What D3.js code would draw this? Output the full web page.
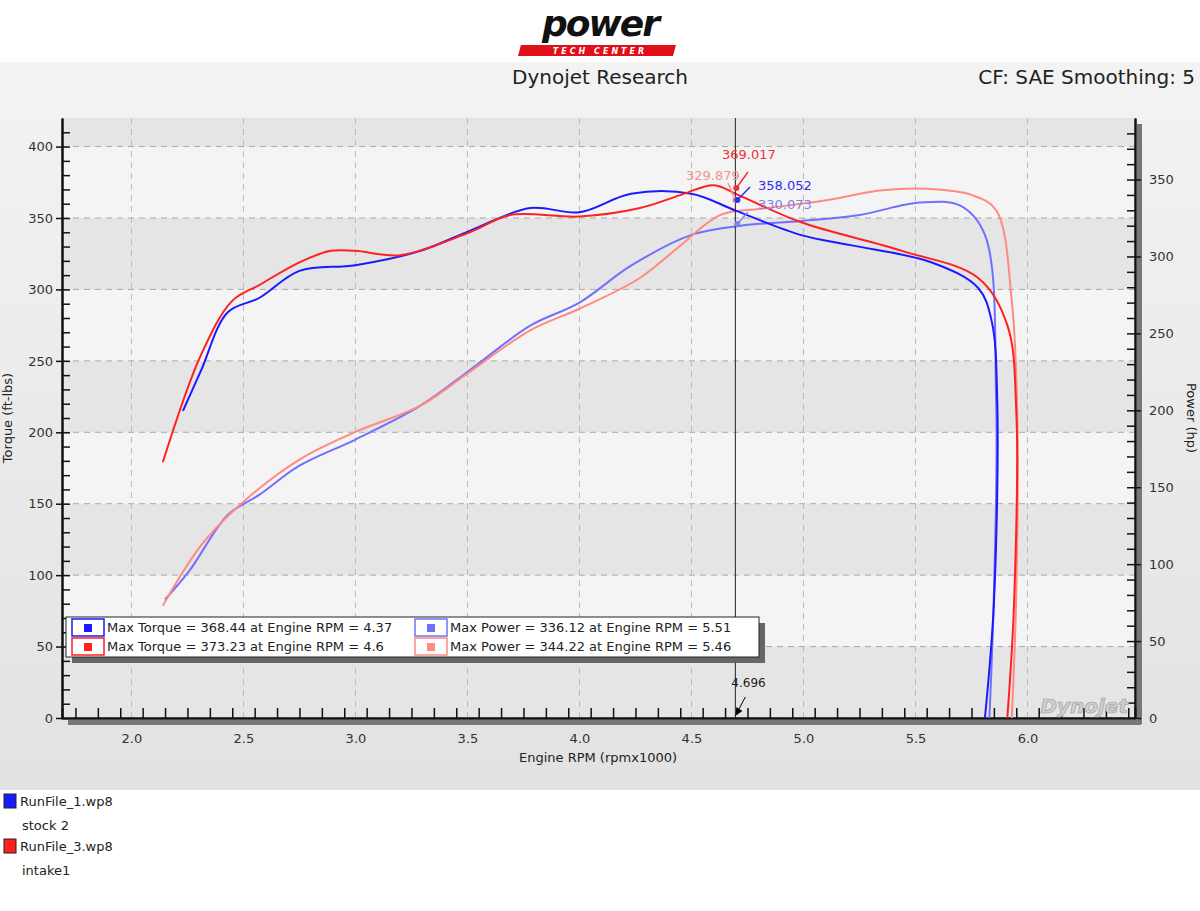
<!DOCTYPE html>
<html><head><meta charset="utf-8">
<script src="https://cdn.jsdelivr.net/npm/d3@7"></script>
<style>body{margin:0;background:#fff;font-family:Tahoma,"DejaVu Sans",sans-serif}</style>
</head><body><svg width="1200" height="911"></svg>
<script>
var rpmTicks = [2.0, 2.5, 3.0, 3.5, 4.0, 4.5, 5.0, 5.5, 6.0];
var torqueTicks = [0, 50, 100, 150, 200, 250, 300, 350, 400];
var powerTicks = [0, 50, 100, 150, 200, 250, 300, 350];

var stockTorque = [[2.23,215],[2.31,243],[2.43,284],[2.57,294],[2.75,313],[3.0,317],[3.29,327],[3.51,341],[3.78,357],[4.0,354],[4.23,367],[4.5,367],[4.7,355],[4.99,338],[5.21,331],[5.57,319],[5.78,301],[5.84,278],[5.865,222],[5.85,80],[5.81,0]];
var intakeTorque = [[2.14,179],[2.31,254],[2.45,292],[2.57,303],[2.75,319],[2.89,327],[3.0,327],[3.2,324],[3.51,340],[3.69,352],[4.0,351],[4.27,357],[4.45,366],[4.6,373],[4.71,366],[4.99,347],[5.44,327],[5.78,308],[5.91,275],[5.95,215],[5.94,80],[5.91,0]];
var stockPower = [[2.15,77],[2.26,96],[2.43,132],[2.57,145],[2.75,164],[3.0,181],[3.29,203],[3.51,226],[3.78,255],[4.0,270],[4.23,294],[4.5,314],[4.72,320],[4.99,323],[5.25,327],[5.52,335],[5.7,333],[5.81,314],[5.86,206],[5.85,80],[5.83,0]];
var intakePower = [[2.14,73],[2.31,112],[2.48,138],[2.75,168],[3.0,186],[3.29,203],[3.51,225],[3.78,252],[4.0,266],[4.27,286],[4.45,307],[4.63,327],[4.81,331],[5.08,336],[5.35,343],[5.55,344],[5.75,340],[5.86,330],[5.93,271],[5.955,193],[5.95,80],[5.93,0]];

var svg = d3.select('svg');
var L = 62, R = 1135, T = 118, B = 718;
var x = d3.scaleLinear().domain([1.69, 6.48]).range([L, R]);
var yT = d3.scaleLinear().domain([0, 420]).range([B, T]);
var yP = d3.scaleLinear().domain([0, 390]).range([B, T]);

var defs = svg.append('defs');
var bg = defs.append('linearGradient').attr('id', 'bg').attr('x1', 0).attr('y1', 0).attr('x2', 0).attr('y2', 1);
bg.append('stop').attr('offset', 0).attr('stop-color', '#f3f3f3');
bg.append('stop').attr('offset', 1).attr('stop-color', '#e2e2e2');
svg.append('rect').attr('x', 0).attr('y', 62).attr('width', 1200).attr('height', 728).attr('fill', 'url(#bg)');

// logo
svg.append('text').attr('x', 600).attr('y', 36).attr('text-anchor', 'middle')
  .attr('font-size', 36).attr('font-weight', 'bold').attr('font-style', 'italic')
  .attr('font-family', 'Arial Black, DejaVu Sans').attr('fill', '#111').attr('letter-spacing', -2).text('power');
svg.append('rect').attr('x', 520).attr('y', 45).attr('width', 155).attr('height', 11).attr('fill', '#e0101b').attr('transform', 'skewX(-15) translate(13,0)');
svg.append('text').attr('x', 600).attr('y', 54).attr('text-anchor', 'middle').attr('font-size', 8)
  .attr('font-weight', 'bold').attr('font-style', 'italic').attr('fill', '#fff').attr('letter-spacing', 3).text('TECH CENTER');

svg.append('text').attr('x', 600).attr('y', 84).attr('text-anchor', 'middle').attr('font-size', 20).attr('fill', '#222').text('Dynojet Research');
svg.append('text').attr('x', 1195).attr('y', 84).attr('text-anchor', 'end').attr('font-size', 20).attr('fill', '#222').text('CF: SAE Smoothing: 5');

// plot bands
var plotG = svg.append('g');
plotG.append('rect').attr('x', L).attr('y', T).attr('width', R - L).attr('height', B - T).attr('fill', '#f4f4f4');
[0, 100, 200, 300, 400].forEach(function (v) {
  plotG.append('rect').attr('x', L).attr('y', yT(Math.min(v + 50, 420))).attr('width', R - L)
    .attr('height', yT(v) - yT(Math.min(v + 50, 420))).attr('fill', '#dedede').attr('opacity', 0.7);
});
// grid
torqueTicks.forEach(function (v) {
  plotG.append('line').attr('x1', L).attr('x2', R).attr('y1', yT(v)).attr('y2', yT(v))
    .attr('stroke', '#aaa').attr('stroke-dasharray', '6,5');
});
rpmTicks.forEach(function (v) {
  plotG.append('line').attr('x1', x(v)).attr('x2', x(v)).attr('y1', T).attr('y2', B)
    .attr('stroke', '#bbb').attr('stroke-dasharray', '6,5');
});
// axis shadows
svg.append('rect').attr('x', L + 6).attr('y', B + 2).attr('width', R - L).attr('height', 5).attr('fill', '#777');
svg.append('rect').attr('x', R + 2).attr('y', T + 6).attr('width', 5).attr('height', B - T).attr('fill', '#777');

svg.append('g').attr('transform', 'translate(0,' + B + ')')
  .call(d3.axisBottom(x).tickValues(rpmTicks).tickFormat(d3.format('.1f')).tickSize(0).tickPadding(16));
svg.append('g').attr('transform', 'translate(0,' + B + ')')
  .call(d3.axisTop(x).tickValues(d3.range(1.75, 6.48, 0.1)).tickFormat('').tickSizeOuter(0).tickSize(10));
svg.append('g').attr('transform', 'translate(' + L + ',0)')
  .call(d3.axisLeft(yT).tickValues(torqueTicks).tickSize(6).tickSizeOuter(0));
svg.append('g').attr('transform', 'translate(' + L + ',0)')
  .call(d3.axisRight(yT).tickValues(d3.range(10, 420, 10)).tickFormat('').tickSize(8).tickSizeOuter(0));
svg.append('g').attr('transform', 'translate(' + R + ',0)')
  .call(d3.axisRight(yP).tickValues(powerTicks).tickSize(6).tickSizeOuter(0).tickPadding(8));
svg.append('g').attr('transform', 'translate(' + R + ',0)')
  .call(d3.axisLeft(yP).tickValues(d3.range(10, 390, 10)).tickFormat('').tickSize(8).tickSizeOuter(0));
svg.selectAll('.domain').attr('stroke', '#111').attr('stroke-width', 2);
svg.selectAll('.tick line').attr('stroke', '#111').attr('stroke-width', 1.5);
svg.selectAll('.tick text').attr('font-size', 13).attr('fill', '#333').attr('font-family', 'Tahoma,DejaVu Sans');

svg.append('text').attr('x', 598).attr('y', 762).attr('text-anchor', 'middle').attr('font-size', 13).attr('fill', '#222').text('Engine RPM (rpmx1000)');
svg.append('text').attr('transform', 'translate(12,418) rotate(-90)').attr('text-anchor', 'middle').attr('font-size', 13).attr('fill', '#222').text('Torque (ft-lbs)');
svg.append('text').attr('transform', 'translate(1187,418) rotate(90)').attr('text-anchor', 'middle').attr('font-size', 13).attr('fill', '#222').text('Power (hp)');

// watermark
svg.append('text').attr('x', 1128).attr('y', 713).attr('text-anchor', 'end').attr('font-size', 20).attr('font-weight', 'bold')
  .attr('font-style', 'italic').attr('fill', '#cfcfcf').attr('stroke', '#999').attr('stroke-width', 0.6).text('Dynojet');

var cl = svg.append('g');
function draw(data, ys, color) {
  var line = d3.line().x(function (d) { return x(d[0]); }).y(function (d) { return ys(d[1]); }).curve(d3.curveCatmullRom.alpha(0.5));
  cl.append('path').datum(data).attr('d', line).attr('fill', 'none').attr('stroke', color).attr('stroke-width', 2);
}
draw(stockPower, yP, '#7070ff');
draw(intakePower, yP, '#ff8a80');
draw(stockTorque, yT, '#1a1aff');
draw(intakeTorque, yT, '#ff2020');

// cursor
var cx = x(4.696);
svg.append('line').attr('x1', cx).attr('x2', cx).attr('y1', T).attr('y2', B).attr('stroke', '#222').attr('stroke-width', 1);
svg.append('text').attr('x', cx - 4).attr('y', 687).attr('font-size', 12).attr('fill', '#222').text('4.696');
svg.append('line').attr('x1', cx + 10).attr('y1', 697).attr('x2', cx + 2).attr('y2', 712).attr('stroke', '#000');
svg.append('path').attr('d', 'M' + cx + ',716 l1,-9 l6,4 z').attr('fill', '#000');

function ann(txt, tx, ty, color, ax1, ay1, ax2, ay2) {
  svg.append('text').attr('x', tx).attr('y', ty).attr('font-size', 13).attr('fill', color).text(txt);
  svg.append('line').attr('x1', ax1).attr('y1', ay1).attr('x2', ax2).attr('y2', ay2).attr('stroke', color).attr('stroke-width', 1.5);
  svg.append('circle').attr('cx', ax2).attr('cy', ay2).attr('r', 3).attr('fill', color);
}
ann('369.017', 722, 159, '#f03030', 748, 172, cx + 1, 188);
ann('329.879', 686, 180, '#f49090', 728, 183, cx, 200);
ann('358.052', 758, 190, '#3030f0', 750, 187, cx + 2, 200);
ann('330.073', 758, 209, '#8080f0', 748, 212, cx + 2, 224);

// legend box
svg.append('rect').attr('x', 72).attr('y', 623).attr('width', 693).attr('height', 40).attr('fill', '#666');
svg.append('rect').attr('x', 66).attr('y', 617).attr('width', 693).attr('height', 40).attr('fill', '#fff').attr('stroke', '#222');
var legRows = [
  ['#1a1aff', 'Max Torque = 368.44 at Engine RPM = 4.37', '#7070ff', 'Max Power = 336.12 at Engine RPM = 5.51'],
  ['#ff2020', 'Max Torque = 373.23 at Engine RPM = 4.6', '#ff8a80', 'Max Power = 344.22 at Engine RPM = 5.46']
];
legRows.forEach(function (r, i) {
  var yy = 619 + i * 19;
  [[72, r[0], r[1]], [415, r[2], r[3]]].forEach(function (c) {
    svg.append('rect').attr('x', c[0]).attr('y', yy).attr('width', 32).attr('height', 17).attr('fill', '#fff').attr('stroke', c[1]).attr('stroke-width', 1.5);
    svg.append('rect').attr('x', c[0] + 12).attr('y', yy + 5).attr('width', 8).attr('height', 8).attr('fill', c[1]);
    svg.append('text').attr('x', c[0] + 35).attr('y', yy + 13).attr('font-size', 13).attr('fill', '#222').text(c[2]);
  });
});

// file legend
[['#1a1aff', 'RunFile_1.wp8', 'stock 2', 794], ['#ff2020', 'RunFile_3.wp8', 'intake1', 839]].forEach(function (f) {
  svg.append('rect').attr('x', 4).attr('y', f[3]).attr('width', 12).attr('height', 14).attr('fill', f[0]).attr('stroke', '#222');
  svg.append('text').attr('x', 20).attr('y', f[3] + 12).attr('font-size', 13).attr('fill', '#222').text(f[1]);
  svg.append('text').attr('x', 22).attr('y', f[3] + 36).attr('font-size', 13).attr('fill', '#222').text(f[2]);
});
</script></body></html>
